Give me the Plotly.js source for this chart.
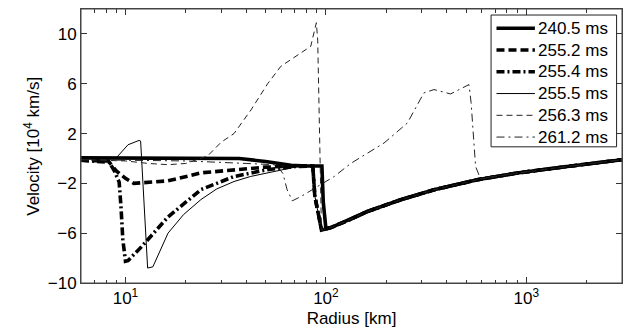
<!DOCTYPE html>
<html><head><meta charset="utf-8">
<script src="https://cdn.plot.ly/plotly-3.0.1.min.js"></script>
<style>html,body{margin:0;padding:0;background:#fff;}#chart{width:627px;height:331px;}</style>
</head><body><div id="chart"></div>
<script>
// Series names
const names = ['240.5 ms','255.2 ms','255.4 ms','255.5 ms','256.3 ms','261.2 ms'];

// 240.5 ms
const r_2405 = [6, 10, 20, 37, 50, 67, 80, 95.5, 97, 100, 106, 130, 161, 236, 346, 569, 900, 1600, 2200, 3000];
const v_2405 = [0.05, 0.05, 0.05, 0.0, -0.25, -0.55, -0.6, -0.6, -3.5, -5.65, -5.55, -4.95, -4.26, -3.32, -2.52, -1.71, -1.17, -0.64, -0.36, -0.1];

// 255.2 ms
const r_2552 = [6, 8.2, 9, 10, 11, 12.4, 16.3, 24, 35, 50, 70, 86, 88, 95, 100, 106, 130, 161, 236, 346, 569, 900, 1600, 2200, 3000];
const v_2552 = [-0.15, -0.2, -1.0, -1.6, -2.0, -1.95, -1.8, -1.15, -0.9, -0.7, -0.6, -0.6, -3, -5.75, -5.65, -5.55, -4.95, -4.26, -3.32, -2.52, -1.71, -1.17, -0.64, -0.36, -0.1];

// 255.4 ms
const r_2554 = [6, 8.3, 8.8, 9.3, 9.5, 9.7, 10.0, 10.3, 12, 16.3, 23.8, 34.8, 51, 70, 86, 88, 95, 100, 106, 130, 161, 236, 346, 569, 900, 1600, 2200, 3000];
const v_2554 = [-0.15, -0.3, -1.0, -1.9, -3.9, -6.5, -8.25, -8.2, -7.1, -4.7, -2.5, -1.45, -0.9, -0.65, -0.6, -3, -5.75, -5.65, -5.55, -4.95, -4.26, -3.32, -2.52, -1.71, -1.17, -0.64, -0.36, -0.1];

// 255.5 ms
const r_2555 = [6, 9.0, 10.3, 11.7, 11.9, 12.9, 13.7, 15, 16.3, 19.5, 23.8, 28.5, 34.8, 42, 51, 70, 86, 88, 95, 100, 106, 130, 161, 236, 346, 569, 900, 1600, 2200, 3000];
const v_2555 = [0, 0.05, 1.1, 1.45, 1.4, -8.8, -8.7, -7.3, -6.0, -4.5, -3.3, -2.45, -1.85, -1.45, -1.15, -0.7, -0.6, -3, -5.75, -5.65, -5.55, -4.95, -4.26, -3.32, -2.52, -1.71, -1.17, -0.64, -0.36, -0.1];

// 256.3 ms
const r_2563 = [6, 10, 13, 16.3, 20, 25.7, 30, 34.8, 42.3, 51.2, 59.6, 72, 84, 89.6, 91, 95, 100, 106, 130, 161, 236, 346, 569, 900, 1600, 2200, 3000];
const v_2563 = [-0.1, -0.2, -0.4, -0.5, -0.4, 0.2, 1.3, 2.0, 3.9, 6.0, 7.4, 8.3, 9.0, 10.9, 9.5, -5.7, -5.65, -5.55, -4.95, -4.26, -3.32, -2.52, -1.71, -1.17, -0.64, -0.36, -0.1];

// 261.2 ms
const r_2612 = [6, 20, 40, 55, 58, 61, 64, 68, 75, 90, 110, 133, 195, 255, 308, 346, 419, 517, 530, 558, 590, 900, 1600, 2200, 3000];
const v_2612 = [-0.1, -0.2, -0.4, -0.5, -0.75, -1.2, -2.5, -3.4, -3.06, -2.3, -1.45, -0.4, 1.24, 2.85, 5.26, 5.53, 5.18, 5.93, 4.5, -0.64, -1.62, -1.17, -0.64, -0.36, -0.1];

// Axis ticks
const xTickVals = [10, 100, 1000];
const xTickText = ['10<sup>1</sup>', '10<sup>2</sup>', '10<sup>3</sup>'];
const xMinorVals = [7, 8, 9, 20, 30, 40, 50, 60, 70, 80, 90, 200, 300, 400, 500, 600, 700, 800, 900, 2000, 3000];
const yTickVals = [-10, -6, -2, 2, 6, 10];
const xTitle = 'Radius [km]';
const yTitle = 'Velocity [10<sup>4</sup> km/s]';

const K = '#000';
const lineStyles = [
  {color: K, width: 3.6},
  {color: K, width: 3.6, dash: '8px,4px'},
  {color: K, width: 3.6, dash: '8px,3px,2px,3px'},
  {color: K, width: 1},
  {color: '#222', width: 1, dash: '6px,4px'},
  {color: '#222', width: 1, dash: '8px,4px,2px,4px'}
];
const xs = [r_2405, r_2552, r_2554, r_2555, r_2563, r_2612];
const ys = [v_2405, v_2552, v_2554, v_2555, v_2563, v_2612];
const traces = names.map((n, i) => ({type: 'scatter', mode: 'lines', x: xs[i], y: ys[i], name: n, line: lineStyles[i], showlegend: false}));

const FAM = 'Liberation Sans, Arial, sans-serif';

// Plot frame
const shapes = [{type: 'rect', xref: 'paper', yref: 'paper', x0: 0, x1: 1, y0: 0, y1: 1,
                 line: {color: '#444', width: 1}, fillcolor: 'rgba(0,0,0,0)', layer: 'above'}];
// Hand-built legend (box, samples, labels) in plot-area paper coordinates
const LX0 = 0.758, LX1 = 0.990, LY0 = 0.497, LY1 = 0.978;
const SX0 = 0.768, SX1 = 0.839, TX = 0.843, ROW0 = 0.9296, ROWSTEP = 0.0794;
shapes.push({type: 'rect', xref: 'paper', yref: 'paper', x0: LX0, x1: LX1, y0: LY0, y1: LY1,
             line: {color: '#222', width: 1}, fillcolor: '#fff', layer: 'above'});
const annotations = [];
names.forEach((n, i) => {
  const yy = ROW0 - i * ROWSTEP;
  shapes.push({type: 'line', xref: 'paper', yref: 'paper', x0: SX0, x1: SX1, y0: yy, y1: yy, line: lineStyles[i], layer: 'above'});
  annotations.push({xref: 'paper', yref: 'paper', x: TX, y: yy, xanchor: 'left', yanchor: 'middle', showarrow: false,
                    text: n, font: {family: FAM, size: 17, color: '#000'}, borderpad: 0});
});
// y-axis title
annotations.push({xref: 'paper', yref: 'paper', x: -0.091, y: 0.5, xanchor: 'center', yanchor: 'middle',
                  showarrow: false, textangle: -90, text: yTitle, font: {family: FAM, size: 17, color: '#000'}});

const layout = {
  width: 627, height: 331,
  margin: {l: 81, r: 5, t: 9, b: 48},
  paper_bgcolor: '#fff', plot_bgcolor: '#fff',
  font: {family: FAM, size: 17, color: '#000'},
  showlegend: false,
  shapes: shapes, annotations: annotations,
  xaxis: {
    type: 'log', range: [Math.log10(6), Math.log10(3000)],
    tickmode: 'array', tickvals: xTickVals, ticktext: xTickText,
    ticks: 'inside', ticklen: 6, tickcolor: '#333', showline: true, linecolor: '#444', linewidth: 1,
    mirror: 'allticks', showgrid: false, zeroline: false,
    minor: {tickmode: 'array', tickvals: xMinorVals, ticks: 'inside', ticklen: 3.5, tickcolor: '#333', showgrid: false},
    tickfont: {family: FAM, size: 17, color: '#000'},
    title: {text: xTitle, font: {family: FAM, size: 17, color: '#000'}, standoff: 4}
  },
  yaxis: {
    range: [-10, 12], tickmode: 'array', tickvals: yTickVals,
    ticks: 'inside', ticklen: 6, tickcolor: '#333', showline: true, linecolor: '#444', linewidth: 1,
    mirror: 'allticks', showgrid: false, zeroline: false,
    tickfont: {family: FAM, size: 17, color: '#000'}
  }
};
Plotly.newPlot('chart', traces, layout, {staticPlot: true, displayModeBar: false});
</script>
</body></html>
